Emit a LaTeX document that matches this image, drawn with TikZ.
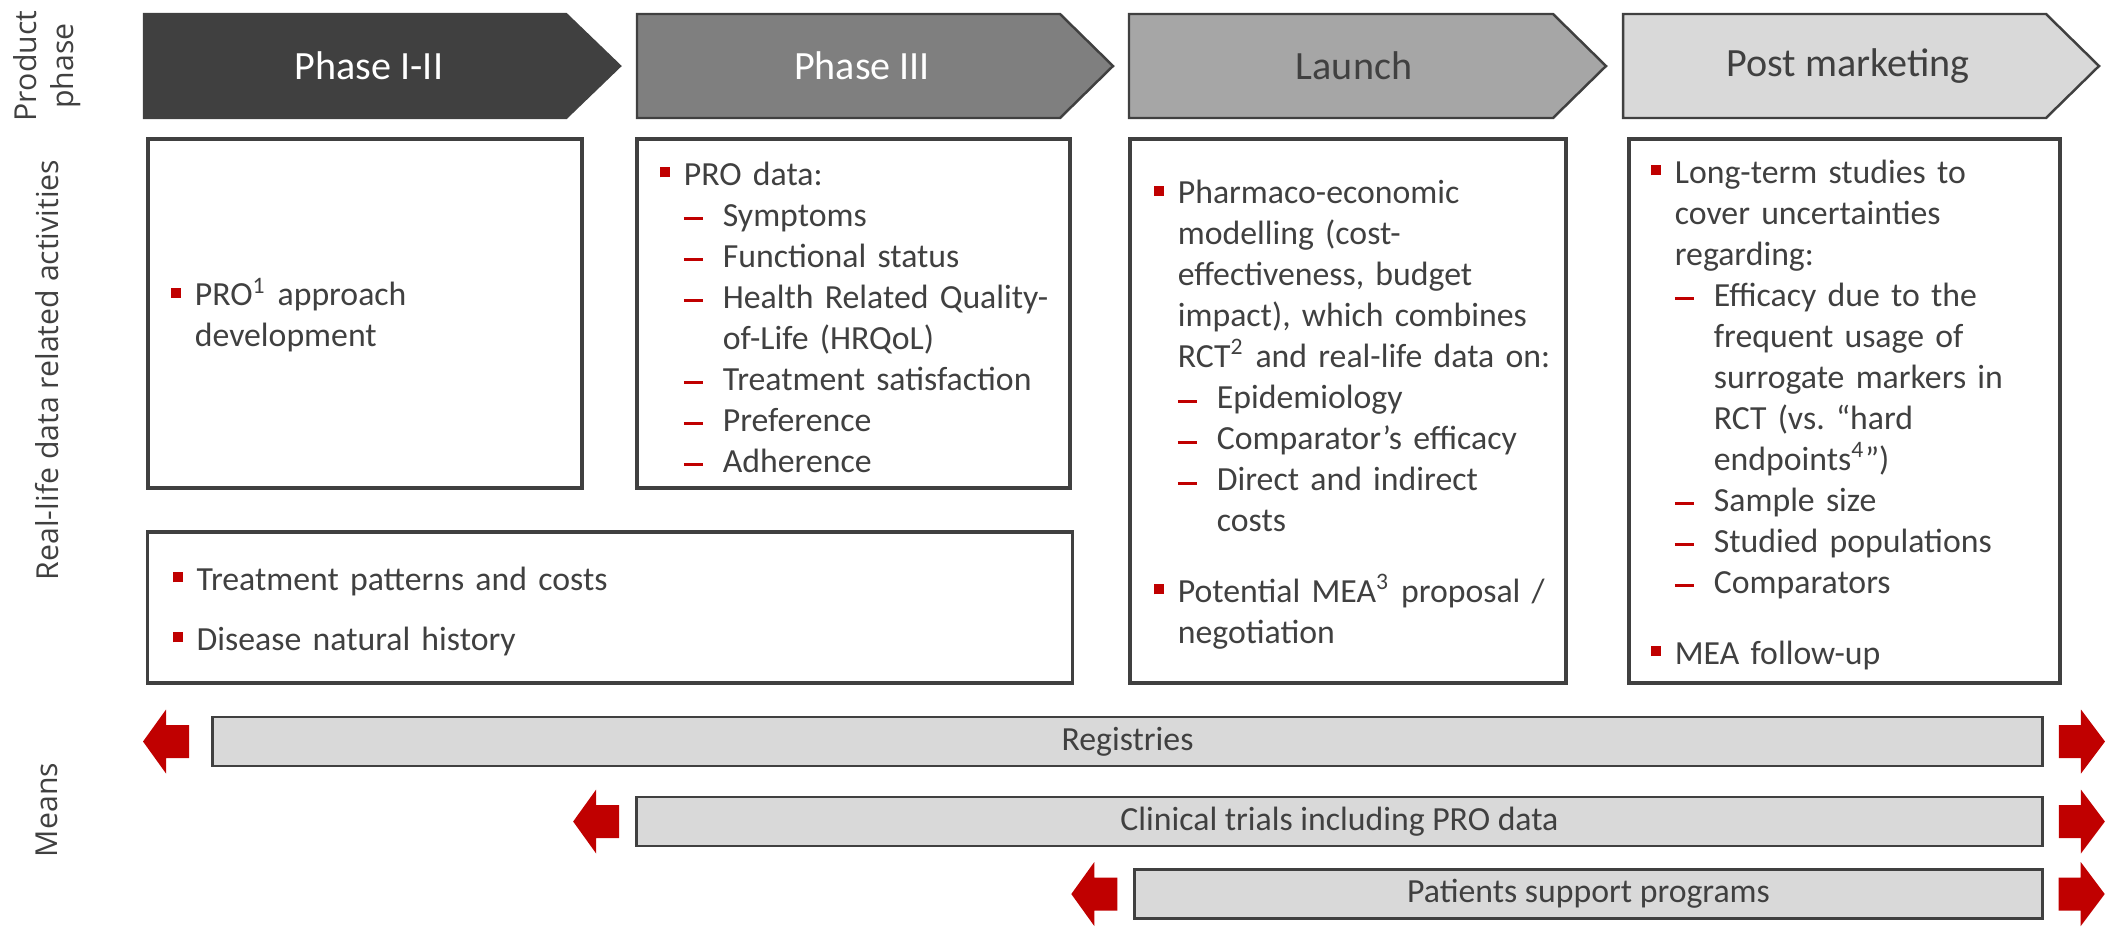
\documentclass[tikz,border=0pt]{standalone}
\usepackage{fontspec}
\setmainfont{Carlito}
\newfontfamily\sidefont{Open Sans}
\usepackage{xcolor}
\usepackage{tikz}
\usetikzlibrary{calc}
\definecolor{txtGray}{HTML}{404040}
\definecolor{phDark}{HTML}{404040}
\definecolor{phMid}{HTML}{7F7F7F}
\definecolor{phLight}{HTML}{A6A6A6}
\definecolor{phPale}{HTML}{D9D9D9}
\definecolor{mainRed}{HTML}{C00000}
\frenchspacing

\newlength\bulw \setlength\bulw{0.24cm}
\newlength\dashw \setlength\dashw{0.39cm}
\newcommand{\sqbul}{\textcolor{mainRed}{\rule[0.08cm]{0.1cm}{0.1cm}}}
\newcommand{\rdash}{\textcolor{mainRed}{\rule[0.06cm]{0.19cm}{0.03cm}}}
\newcommand{\bitem}[1]{\par\noindent\hyphenpenalty=10000\rightskip=0pt plus 1fil\hangindent=\bulw\hangafter=1\makebox[\bulw][l]{\sqbul}#1\par}
\newcommand{\ditem}[1]{\par\noindent\hyphenpenalty=10000\rightskip=0pt plus 1fil\hangindent=\dimexpr\bulw+\dashw\relax\hangafter=1\hspace*{\bulw}\makebox[\dashw][l]{\rdash}#1\par}

\begin{document}
\begin{tikzpicture}[x=0.01cm, y=-0.01cm,
    phase/.style={draw=txtGray, line width=0.7pt},
    phlabel/.style={font=\fontsize{11.4}{13}\selectfont, inner sep=0pt},
    sidelabel/.style={font=\sidefont\fontsize{8.6}{10.5}\selectfont, text=txtGray, align=center, rotate=90, inner sep=0pt},
    actbox/.style={draw=txtGray, line width=1pt, inner sep=0pt},
    btext/.style={anchor=west, text width=5cm, inner sep=0pt, yshift=0.05cm, text=txtGray, font=\fontsize{9.6}{11.65}\selectfont},
    meanbar/.style={draw=txtGray, fill=phPale, line width=0.8pt, inner sep=0pt, minimum height=0.49cm,
      text=txtGray, font=\fontsize{9.6}{11.65}\selectfont},
    larr/.pic={\fill[mainRed] (0,0) -- ++(23,-32) -- ++(0,15.5) -- ++(23,0) -- ++(0,33) -- ++(-23,0) -- ++(0,15.5) -- cycle;},
    rarr/.pic={\fill[mainRed] (0,0) -- ++(-24,-32) -- ++(0,15.5) -- ++(-22,0) -- ++(0,33) -- ++(22,0) -- ++(0,15.5) -- cycle;}
  ]
  \useasboundingbox (0,0) rectangle (2112,926);

  % === Row labels ===
  \node[sidelabel] (lblProd) at (47,66) {Product\\phase};
  \node[sidelabel] (lblAct) at (47,370) {Real-life data related activities};
  \node[sidelabel] (lblMeans) at (47,810) {Means};

  % === Product phases ===
  \filldraw[phase, fill=phDark] (144,14) -- (566,14) -- (620,66) -- (566,118) -- (144,118) -- cycle;
  \filldraw[phase, fill=phMid] (637,14) -- (1060,14) -- (1113,66) -- (1060,118) -- (637,118) -- cycle;
  \filldraw[phase, fill=phLight] (1129,14) -- (1553,14) -- (1606,66) -- (1553,118) -- (1129,118) -- cycle;
  \filldraw[phase, fill=phPale] (1623,14) -- (2046,14) -- (2099,66) -- (2046,118) -- (1623,118) -- cycle;
  \node[phlabel, text=white] (phaseI) at (369,66) {Phase I-II};
  \node[phlabel, text=white] (phaseIII) at (862,66) {Phase III};
  \node[phlabel, text=txtGray] (launch) at (1354,66) {Launch};
  \node[phlabel, text=txtGray] (postm) at (1848,66) {Post marketing};

  % === Real-life data related activities ===
  \node[actbox, minimum width=4.34cm, minimum height=3.49cm] (act1) at (365,313.5) {};
  \node[btext] (act1txt) at ([xshift=0.24cm]act1.west) {%
    \bitem{PRO\textsuperscript{1} approach\newline development}};

  \node[actbox, minimum width=4.33cm, minimum height=3.49cm] (act2) at (853.5,313.5) {};
  \node[btext] (act2txt) at ([xshift=0.24cm]act2.west) {%
    \bitem{PRO data:}
    \ditem{Symptoms}
    \ditem{Functional status}
    \ditem{Health Related Quality-\newline of-Life (HRQoL)}
    \ditem{Treatment satisfaction}
    \ditem{Preference}
    \ditem{Adherence}};

  \node[actbox, minimum width=4.36cm, minimum height=5.44cm] (act3) at (1348,411) {};
  \node[btext] (act3txt) at ([xshift=0.25cm]act3.west) {%
    \bitem{Pharmaco-economic\newline modelling (cost-\newline effectiveness, budget\newline impact), which combines\newline RCT\textsuperscript{2} and real-life data on:}
    \ditem{Epidemiology}
    \ditem{Comparator’s efficacy}
    \ditem{Direct and indirect\newline costs}
    \vspace{0.3cm}
    \bitem{Potential MEA\textsuperscript{3} proposal /\newline negotiation}};

  \node[actbox, minimum width=4.31cm, minimum height=5.44cm] (act4) at (1844.5,411) {};
  \node[btext] (act4txt) at ([xshift=0.23cm]act4.west) {%
    \bitem{Long-term studies to\newline cover uncertainties\newline regarding:}
    \ditem{Efficacy due to the\newline frequent usage of\newline surrogate markers in\newline RCT (vs. “hard\newline endpoints\textsuperscript{4}”)}
    \ditem{Sample size}
    \ditem{Studied populations}
    \ditem{Comparators}
    \vspace{0.3cm}
    \bitem{MEA follow-up}};

  \node[actbox, minimum width=9.24cm, minimum height=1.51cm] (act5) at (610,607.5) {};
  \node[btext] (act5txt) at ([xshift=0.26cm]act5.west) {%
    \bitem{Treatment patterns and costs}
    \vspace{0.19cm}
    \bitem{Disease natural history}};

  % === Means ===
  \node[meanbar, minimum width=18.29cm] (reg) at (1127.5,741.5) {Registries};
  \node[meanbar, minimum width=14.05cm] (clin) at (1339.5,821.5) {Clinical trials including PRO data};
  \node[meanbar, minimum width=9.07cm] (psp) at (1588.5,894) {Patients support programs};
  \pic at ([xshift=-0.68cm]reg.west) {larr};
  \pic at ([xshift=-0.62cm]clin.west) {larr};
  \pic at ([xshift=-0.62cm]psp.west) {larr};
  \pic at ([xshift=0.61cm]reg.east) {rarr};
  \pic at ([xshift=0.61cm]clin.east) {rarr};
  \pic at ([xshift=0.61cm]psp.east) {rarr};
\end{tikzpicture}
\end{document}
